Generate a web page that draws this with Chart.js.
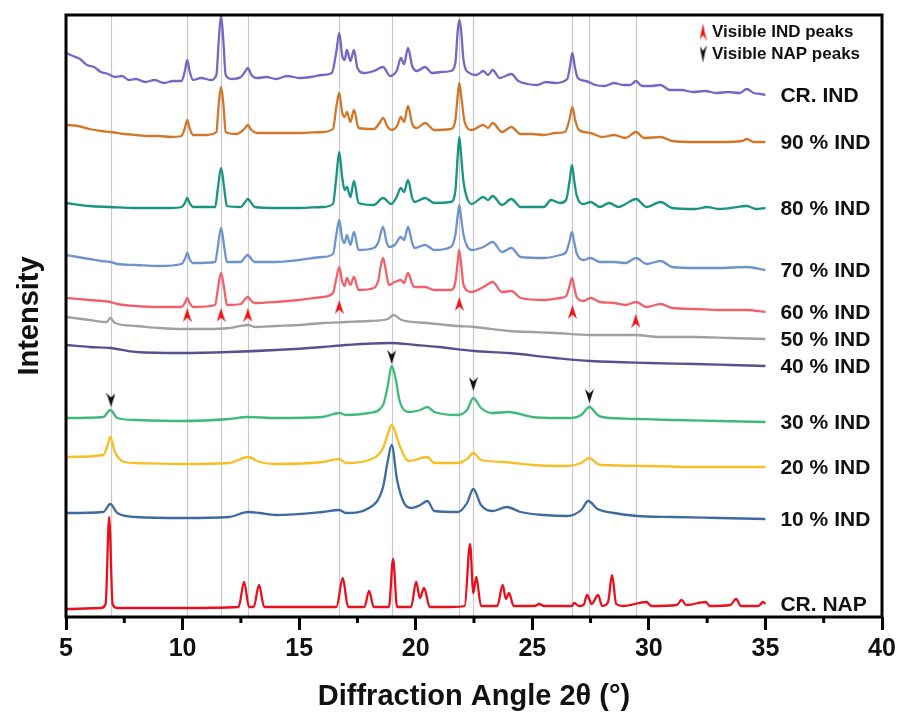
<!DOCTYPE html>
<html>
<head>
<meta charset="utf-8">
<script src="https://cdn.jsdelivr.net/npm/chart.js@4.4.1/dist/chart.umd.min.js"></script>
<style>
  html, body { margin: 0; padding: 0; background: #ffffff; }
  #wrap { width: 900px; height: 716px; position: relative; }
</style>
</head>
<body>
<div id="wrap"><canvas id="xrd" width="900" height="716"></canvas></div>
<script>
// Stacked powder XRD patterns: [2θ (°), offset intensity (a.u.)]
const crInd = [[5,563],[5.3,560],[5.6,557],[5.9,551],[6.2,549],[6.5,544],[6.8,542],[7.1,539],[7.4,540],[7.7,536],[8,537],[8.4,534],[8.8,536],[9.2,533],[9.6,535],[9.95,535],[10.1,545],[10.2,556],[10.3,545],[10.45,536],[10.8,538],[11.2,536],[11.45,541],[11.55,575],[11.65,601],[11.75,575],[11.85,541],[12.1,537],[12.5,539],[12.7,545],[12.8,548],[12.95,541],[13.2,538],[13.6,539],[14,537],[14.5,540],[15,538],[15.5,539],[16,541],[16.4,543],[16.6,565],[16.72,583],[16.85,560],[16.95,556],[17.05,566],[17.2,555],[17.35,566],[17.5,548],[17.8,543],[18.2,545],[18.6,549],[18.9,540],[19.2,546],[19.36,558],[19.5,552],[19.67,568],[19.85,550],[20.05,545],[20.4,549],[20.7,543],[21.1,544],[21.5,545],[21.7,553],[21.8,585],[21.87,596],[21.95,585],[22.05,556],[22.3,543],[22.6,541],[22.9,545],[23.1,541],[23.3,546],[23.6,538],[24.1,542],[24.4,535],[24.8,532],[25.2,531],[25.6,534],[26,533],[26.5,537],[26.62,550],[26.72,563],[26.82,550],[26.95,538],[27.3,535],[27.7,531],[28.1,530],[28.5,533],[28.9,531],[29.2,531],[29.45,535],[29.7,530],[30.1,530],[30.5,531],[30.9,526],[31.4,526],[31.9,524],[32.4,525],[32.9,523],[33.4,524],[33.9,523],[34.2,527],[34.5,523],[34.8,522],[35,521]];
const ind90 = [[5,491],[5.5,490],[6,487],[6.5,485],[6.9,484],[7.5,482],[8,481],[8.5,480],[9,480],[9.5,479],[9.95,480],[10.1,488],[10.2,496],[10.3,488],[10.45,481],[11,481],[11.45,484],[11.55,512],[11.65,529],[11.75,512],[11.85,484],[12.3,482],[12.65,487],[12.8,491],[12.95,486],[13.2,483],[14,483],[15,483],[16,484],[16.45,487],[16.6,510],[16.72,523],[16.85,503],[16.95,499],[17.05,504],[17.2,494],[17.35,506],[17.55,488],[18.2,487],[18.45,493],[18.6,498],[18.8,489],[18.97,486],[19.2,490],[19.36,499],[19.5,494],[19.67,510],[19.85,492],[20.05,488],[20.4,493],[20.8,486],[21.5,487],[21.7,496],[21.8,520],[21.87,533],[21.95,520],[22.1,494],[22.4,486],[22.9,491],[23.1,488],[23.3,493],[23.7,484],[24.1,489],[24.5,482],[25,482],[25.5,481],[26,483],[26.4,484],[26.6,497],[26.72,509],[26.85,495],[27,486],[27.5,483],[28,479],[28.5,481],[29,478],[29.45,484],[29.8,478],[30.5,479],[31,475],[32,474],[33,474],[34,475],[34.2,477],[34.5,474],[35,474]];
const ind80 = [[5,413],[6,410],[6.9,409],[8,408],[9.5,408],[9.95,409],[10.1,413],[10.2,418],[10.3,413],[10.45,409],[11.4,409],[11.5,425],[11.65,448],[11.8,425],[11.9,410],[12.5,409],[12.65,413],[12.8,417],[12.95,413],[13.1,409],[14,408],[15,408],[16,409],[16.45,412],[16.6,440],[16.72,464],[16.85,438],[16.95,426],[17.05,429],[17.2,419],[17.35,435],[17.55,413],[18.2,411],[18.6,418],[18.95,412],[19.2,420],[19.36,428],[19.5,424],[19.67,436],[19.85,418],[19.95,414],[20.4,418],[20.8,413],[21.5,414],[21.7,425],[21.8,460],[21.87,479],[21.95,460],[22.05,434],[22.2,418],[22.4,412],[22.9,419],[23.1,416],[23.3,420],[23.7,411],[24.1,417],[24.5,409],[25,409],[25.5,409],[25.8,416],[26.2,413],[26.45,416],[26.6,435],[26.7,451],[26.8,435],[26.9,421],[27.2,412],[27.5,414],[27.9,409],[28.3,413],[28.7,409],[29,412],[29.45,417],[29.9,409],[30.5,414],[31,408],[32,407],[32.5,409],[33,407],[33.5,408],[34.2,410],[34.6,407],[35,408]];
const ind70 = [[5,361],[5.5,359],[6,357],[6.5,355],[6.9,354],[7.2,352],[8,351],[9,350],[9.95,352],[10.1,357],[10.2,363],[10.3,357],[10.45,353],[11.4,354],[11.5,367],[11.65,388],[11.8,367],[11.9,354],[12.5,354],[12.65,358],[12.8,361],[12.95,357],[13.1,354],[14,354],[15,356],[16,359],[16.45,362],[16.6,382],[16.72,396],[16.85,377],[16.95,373],[17.05,381],[17.2,371],[17.35,384],[17.55,366],[18.2,368],[18.4,374],[18.6,389],[18.75,374],[18.85,369],[19.1,371],[19.36,379],[19.5,376],[19.67,389],[19.85,373],[19.95,368],[20.4,371],[20.8,366],[21.5,369],[21.7,381],[21.8,400],[21.87,411],[21.95,398],[22.05,381],[22.2,370],[22.4,366],[22.9,369],[23.3,374],[23.7,364],[24.1,368],[24.5,359],[25.5,358],[26.2,361],[26.45,364],[26.6,375],[26.7,384],[26.8,374],[26.9,363],[27.2,356],[27.5,358],[27.9,354],[28.5,354],[29,353],[29.45,358],[29.9,352],[30.5,355],[31,349],[32,348],[33,348],[34.2,349],[35,346]];
const ind60 = [[5,318],[6,316],[6.9,314],[7.2,312],[8,310],[9,309],[9.95,309],[10.1,313],[10.2,318],[10.3,313],[10.45,309],[11.4,311],[11.5,325],[11.65,343],[11.8,325],[11.9,311],[12.5,312],[12.65,316],[12.8,319],[12.95,315],[13.1,313],[14,314],[15,316],[16,319],[16.45,323],[16.6,338],[16.72,349],[16.85,334],[16.95,330],[17.05,338],[17.2,331],[17.35,339],[17.55,326],[18.2,328],[18.4,336],[18.5,350],[18.6,358],[18.7,348],[18.85,331],[19.1,334],[19.36,336],[19.5,333],[19.67,343],[19.85,332],[19.95,329],[20.4,329],[20.8,326],[21.5,326],[21.7,334],[21.8,354],[21.86,366],[21.95,352],[22.05,331],[22.4,324],[22.9,329],[23.3,334],[23.7,324],[24.1,325],[24.5,318],[25.5,316],[26.2,318],[26.45,320],[26.6,330],[26.7,338],[26.8,329],[26.9,319],[27.2,315],[27.5,318],[27.9,314],[28.5,313],[29,311],[29.45,314],[29.9,309],[30.5,312],[31,308],[32,307],[33,306],[34.2,306],[35,304]];
const ind50 = [[5,299],[6,296],[6.75,294],[6.9,298],[7.1,293],[8,290],[9,288],[10,287],[11,287],[12,288],[12.8,291],[13.1,289],[14,290],[15,291],[16,293],[17,294],[18,295],[18.8,297],[19.05,301],[19.4,296],[20.5,293],[21.8,290],[22.5,289],[24,285],[25,284],[26,283],[27.5,281],[29.4,281],[30.5,279],[32,279],[33.5,278],[35,277]];
const ind40 = [[5,271],[6,269],[6.9,268],[8,264],[10,263],[12,264],[14,266],[16,269],[17,271],[18.9,273],[20,271],[21,269],[22.5,265],[24,263],[26,258],[27.5,255],[30,253],[32,252],[33.5,251],[35,250]];
const ind30 = [[5,198],[6.6,199],[6.9,206],[7.2,198],[8,196],[10,195],[12,197],[12.8,199],[14,198],[16,199],[16.72,203],[17,201],[18,203],[18.6,211],[18.8,230],[18.97,250],[19.15,236],[19.3,216],[19.7,204],[20.2,206],[20.5,209],[20.8,204],[21.8,201],[22.2,206],[22.47,218],[22.8,208],[23.3,203],[24,204],[25,199],[26,198],[26.7,198],[27.1,201],[27.45,209],[27.8,201],[28,199],[29.5,197],[31,196],[33,195],[35,194]];
const ind20 = [[5,159],[6.6,161],[6.8,172],[6.9,179],[7.1,164],[7.5,154],[8,153],[10,152],[12,153],[12.8,159],[13.3,154],[14,152],[16,154],[16.72,157],[17,153],[18,156],[18.6,168],[18.8,182],[18.97,191],[19.15,182],[19.3,171],[19.7,155],[20.5,159],[20.8,153],[21.8,153],[22.2,157],[22.47,163],[22.8,156],[23.8,154],[24.2,153],[25,151],[26.5,150],[27.1,153],[27.45,158],[27.8,152],[28,151],[30,150],[32,149],[35,149]];
const ind10 = [[5,103],[6.6,104],[6.9,112],[7.2,103],[8,99],[10,98],[12,99],[12.8,104],[13.3,103],[14,101],[16,104],[16.72,106],[17,103],[18,108],[18.6,129],[18.8,155],[18.97,171],[19.2,136],[19.5,113],[19.8,108],[20.2,111],[20.5,115],[20.8,105],[21.8,104],[22.2,113],[22.47,127],[22.8,111],[23.3,105],[23.9,109],[24.5,104],[25.5,101],[26.5,100],[27.1,106],[27.4,115],[27.8,107],[28.5,103],[29.5,100],[31,99],[33,98],[35,97]];
const crNap = [[5,7],[6.5,8],[6.7,12],[6.85,99],[7.0,12],[7.2,8],[10,8],[12.4,9],[12.64,34],[12.85,9],[13.05,9],[13.28,31],[13.5,9],[16.6,9],[16.87,38],[17.1,9],[17.8,9],[18.0,25],[18.2,9],[18.85,9],[19.03,57],[19.2,9],[19.8,9],[20.02,34],[20.18,18],[20.36,28],[20.6,9],[21.5,9],[22.1,10],[22.33,72],[22.47,23],[22.6,39],[22.8,10],[23.5,10],[23.73,31],[23.87,17],[24.0,23],[24.2,10],[25.1,10],[25.3,12],[25.5,10],[26.7,10],[26.8,13],[27.0,10],[27.2,11],[27.35,21],[27.55,12],[27.82,21],[28.0,10],[28.25,14],[28.42,41],[28.6,12],[28.9,10],[29.9,14],[30.1,10],[31.2,11],[31.4,16],[31.6,11],[32.45,14],[32.6,10],[33.5,11],[33.74,17],[33.95,10],[34.7,10],[34.9,14],[35,12]];

const seriesData = [crInd, ind90, ind80, ind70, ind60, ind50, ind40, ind30, ind20, ind10, crNap];
const seriesNames = ['CR. IND', '90 % IND', '80 % IND', '70 % IND', '60 % IND', '50 % IND', '40 % IND', '30 % IND', '20 % IND', '10 % IND', 'CR. NAP'];
const seriesColors = ['#7767C4', '#D2772A', '#1A9482', '#6E94CC', '#F1616B', '#A0A0A0', '#56528F', '#3EBB78', '#F7BE26', '#3D6AA0', '#E8101C'];

// Reflection positions marked through every pattern
const guideLines = [6.93, 10.2, 11.65, 12.8, 16.72, 18.97, 21.87, 22.47, 26.72, 27.45, 29.44];
// Arrow markers: [2θ, height]
const indPeakMarks = [[10.2, 301], [11.65, 301], [12.8, 301], [16.72, 309], [21.87, 312], [26.72, 304], [29.44, 295]];
const napPeakMarks = [[6.93, 216], [18.97, 259], [22.47, 232], [27.45, 220]];
const xTicks = [5, 10, 15, 20, 25, 30, 35, 40];

const FONT = "'Liberation Sans', Arial, Helvetica, sans-serif";

function makeArrow(color, up, w, h) {
  const c = document.createElement('canvas');
  c.width = w; c.height = h;
  const g = c.getContext('2d');
  g.fillStyle = color;
  g.beginPath();
  if (up) {
    g.moveTo(w / 2, 0); g.lineTo(w, h); g.lineTo(w / 2, h * 0.68); g.lineTo(0, h);
  } else {
    g.moveTo(w / 2, h); g.lineTo(w, 0); g.lineTo(w / 2, h * 0.32); g.lineTo(0, 0);
  }
  g.closePath();
  g.fill();
  return c;
}
const upArrow = makeArrow('#F01010', true, 9, 14);
const downArrow = makeArrow('#111111', false, 9, 14);
const upArrowKey = makeArrow('#F01010', true, 7, 17);
const downArrowKey = makeArrow('#111111', false, 7, 17);

const guidePlugin = {
  id: 'guides',
  beforeDatasetsDraw(chart) {
    const { ctx, chartArea: a, scales: { x } } = chart;
    ctx.save();
    ctx.strokeStyle = '#C9C9C9';
    ctx.lineWidth = 1.2;
    guideLines.forEach(v => {
      const px = Math.round(x.getPixelForValue(v)) + 0.5;
      ctx.beginPath(); ctx.moveTo(px, a.top); ctx.lineTo(px, a.bottom); ctx.stroke();
    });
    ctx.restore();
  }
};

const framePlugin = {
  id: 'frame',
  afterDraw(chart) {
    const { ctx, chartArea: a, scales: { x } } = chart;
    ctx.save();
    // minor ticks
    ctx.strokeStyle = '#000';
    ctx.lineWidth = 3;
    for (let i = 0; i < xTicks.length - 1; i++) {
      const px = x.getPixelForValue((xTicks[i] + xTicks[i + 1]) / 2);
      ctx.beginPath(); ctx.moveTo(px, a.bottom); ctx.lineTo(px, a.bottom + 6); ctx.stroke();
    }
    ctx.strokeRect(a.left, a.top, a.right - a.left, a.bottom - a.top);

    // series names at the end of each pattern
    const y = chart.scales.y;
    ctx.fillStyle = '#111';
    ctx.font = 'bold 21px ' + FONT;
    ctx.textAlign = 'left';
    ctx.textBaseline = 'middle';
    seriesData.forEach((d, i) => {
      const last = d[d.length - 1];
      ctx.fillText(seriesNames[i], x.getPixelForValue(last[0]) + 15, y.getPixelForValue(last[1]) + 1);
    });

    // key for arrow markers
    ctx.font = 'bold 17px ' + FONT;
    const kx = a.right - 179, ky1 = a.top + 17, ky2 = a.top + 39;
    ctx.drawImage(upArrowKey, kx - upArrowKey.width / 2, ky1 - upArrowKey.height / 2);
    ctx.drawImage(downArrowKey, kx - downArrowKey.width / 2, ky2 - downArrowKey.height / 2);
    ctx.fillText('Visible IND peaks', kx + 9, ky1);
    ctx.fillText('Visible NAP peaks', kx + 9, ky2);
    ctx.restore();
  }
};

const datasets = [
  {
    type: 'scatter', label: 'IND peaks', data: indPeakMarks,
    pointStyle: upArrow, pointRadius: 7, showLine: false
  },
  {
    type: 'scatter', label: 'NAP peaks', data: napPeakMarks,
    pointStyle: downArrow, pointRadius: 7, showLine: false
  }
].concat(seriesData.map((d, i) => ({
  type: 'line',
  label: seriesNames[i],
  data: d,
  borderColor: seriesColors[i],
  backgroundColor: seriesColors[i],
  borderWidth: 2.3,
  pointRadius: 0,
  cubicInterpolationMode: 'monotone',
  borderJoinStyle: 'round',
  fill: false
})));

new Chart(document.getElementById('xrd'), {
  type: 'line',
  data: { datasets },
  plugins: [guidePlugin, framePlugin],
  options: {
    responsive: false,
    animation: false,
    layout: { padding: { top: 15, right: 18, left: 0, bottom: 0 } },
    plugins: { legend: { display: false }, tooltip: { enabled: false } },
    scales: {
      x: {
        type: 'linear',
        min: 5, max: 40,
        afterFit(scale) { scale.height = 99; },
        afterBuildTicks(scale) { scale.ticks = xTicks.map(v => ({ value: v })); },
        ticks: {
          font: { family: FONT, size: 25, weight: 'bold' },
          color: '#111',
          padding: 4,
          maxRotation: 0,
          autoSkip: false
        },
        grid: {
          drawOnChartArea: false,
          drawTicks: true,
          tickLength: 13,
          tickWidth: 3,
          tickColor: '#000'
        },
        border: { display: false },
        title: {
          display: true,
          text: 'Diffraction Angle 2θ (°)',
          font: { family: FONT, size: 29, weight: 'bold' },
          color: '#111',
          padding: { top: 0, bottom: 2 }
        }
      },
      y: {
        type: 'linear',
        min: -1, max: 601,
        afterFit(scale) { scale.width = 66; },
        ticks: { display: false },
        grid: { display: false },
        border: { display: false },
        title: {
          display: true,
          text: 'Intensity',
          font: { family: FONT, size: 29, weight: 'bold' },
          color: '#111',
          padding: { top: 13, bottom: 0 }
        }
      }
    }
  }
});
</script>
</body>
</html>
